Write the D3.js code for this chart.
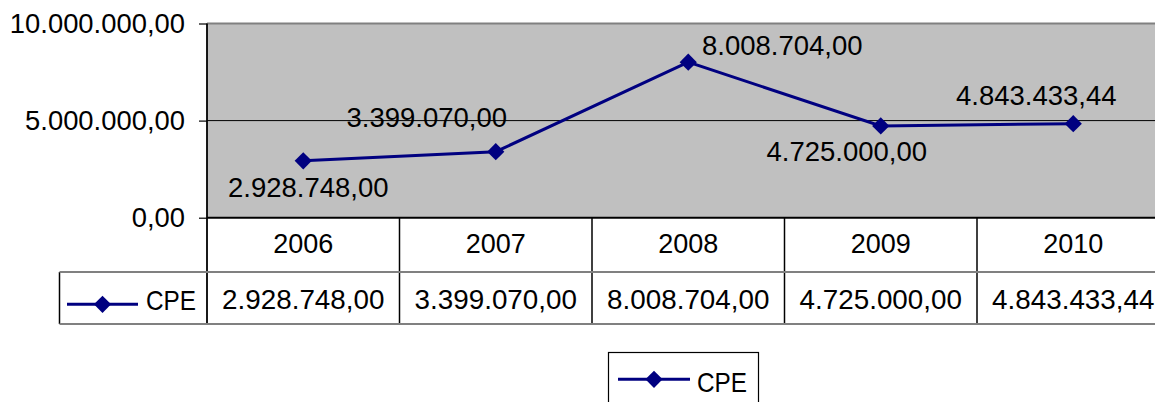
<!DOCTYPE html>
<html>
<head>
<meta charset="utf-8">
<script src="https://cdn.jsdelivr.net/npm/d3@7"></script>
<style>
  html, body { margin: 0; padding: 0; background: #fff; }
  svg { display: block; font-family: "Liberation Sans", Arial, sans-serif; }
</style>
</head>
<body>
<svg id="chart" width="1155" height="402"></svg>
<script>
// ---- data ----
const categories = ["2006", "2007", "2008", "2009", "2010"];
const seriesName = "CPE";
const values = [2928748.00, 3399070.00, 8008704.00, 4725000.00, 4843433.44];
const yTicks = [0, 5000000, 10000000];

// ---- layout (label offsets relative to each point: [dx, dy]) ----
const labelOffsets = [[5, 36], [-69, -25], [94, -7], [-34, 35], [-37, -19]];

const plot = { left: 207, right: 1169.5, top: 23.5, bottom: 217.7 };
const rowHeader = { top: 217.7, bottom: 272 };
const rowData = { top: 272, bottom: 324 };
const legendCellLeft = 59.5;
const navy = "#000080";
const fs = 27.5;

const loc = d3.formatLocale({ decimal: ",", thousands: ".", grouping: [3], currency: ["", ""] });
const fmt = loc.format(",.2f");

const svg = d3.select("#chart");

const x = d3.scaleBand().domain(categories).range([plot.left, plot.right]).padding(0);
const y = d3.scaleLinear().domain([0, 10000000]).range([plot.bottom, plot.top]);

// plot area
svg.append("rect")
  .attr("x", plot.left).attr("y", plot.top)
  .attr("width", plot.right - plot.left).attr("height", plot.bottom - plot.top)
  .attr("fill", "#c0c0c0");
svg.append("line")
  .attr("x1", plot.left).attr("x2", plot.right)
  .attr("y1", plot.top).attr("y2", plot.top)
  .attr("stroke", "#808080").attr("stroke-width", 2);

// gridlines (interior)
svg.append("g").selectAll("line")
  .data(yTicks.filter(t => t > 0 && t < 10000000))
  .join("line")
  .attr("x1", plot.left).attr("x2", plot.right)
  .attr("y1", d => y(d)).attr("y2", d => y(d))
  .attr("stroke", "#000").attr("stroke-width", 1);

// y axis
const yAxis = d3.axisLeft(y).tickValues(yTicks).tickSize(8).tickPadding(14).tickFormat(fmt);
const gy = svg.append("g").attr("transform", `translate(${plot.left},0)`).call(yAxis);
gy.select(".domain").remove();
gy.selectAll(".tick line").attr("stroke", "#000").attr("stroke-width", 1.2);
gy.selectAll(".tick text").attr("font-size", 27.4).attr("fill", "#000")
  .attr("font-family", "'Liberation Sans', Arial, sans-serif");

// left axis line
svg.append("line")
  .attr("x1", plot.left).attr("x2", plot.left)
  .attr("y1", plot.top).attr("y2", rowData.bottom)
  .attr("stroke", "#000").attr("stroke-width", 1.8);

// bottom axis line
svg.append("line")
  .attr("x1", plot.left).attr("x2", plot.right)
  .attr("y1", plot.bottom).attr("y2", plot.bottom)
  .attr("stroke", "#000").attr("stroke-width", 2);

// ---- data table ----
const bounds = categories.map(c => x(c)).concat([plot.right]);
svg.append("g").selectAll("line")
  .data(bounds.slice(1))
  .join("line")
  .attr("x1", d => d).attr("x2", d => d)
  .attr("y1", rowHeader.top).attr("y2", rowData.bottom)
  .attr("stroke", "#000").attr("stroke-width", 1.5);
svg.append("line")
  .attr("x1", legendCellLeft).attr("x2", legendCellLeft)
  .attr("y1", rowData.top).attr("y2", rowData.bottom)
  .attr("stroke", "#000").attr("stroke-width", 1.5);
[rowData.top, rowData.bottom].forEach(yy => {
  svg.append("line")
    .attr("x1", legendCellLeft).attr("x2", plot.right)
    .attr("y1", yy).attr("y2", yy)
    .attr("stroke", "#808080").attr("stroke-width", 1.8);
});

// year labels
svg.append("g").selectAll("text")
  .data(categories)
  .join("text")
  .attr("x", d => x(d) + x.bandwidth() / 2)
  .attr("y", 252.7)
  .attr("text-anchor", "middle")
  .attr("font-size", 27)
  .attr("fill", "#000")
  .text(d => d);

// table values
svg.append("g").selectAll("text")
  .data(values)
  .join("text")
  .attr("x", (d, i) => x(categories[i]) + x.bandwidth() / 2)
  .attr("y", 309.3)
  .attr("text-anchor", "middle")
  .attr("font-size", 27.8)
  .attr("fill", "#000")
  .text(d => fmt(d));

// legend key helper
const diamond = d3.symbol().type(d3.symbolSquare).size(148);
function legendKey(g, x1, x2, cy) {
  g.append("line").attr("x1", x1).attr("x2", x2).attr("y1", cy).attr("y2", cy)
    .attr("stroke", navy).attr("stroke-width", 3);
  g.append("path").attr("d", diamond)
    .attr("transform", `translate(${(x1 + x2) / 2},${cy}) rotate(45)`)
    .attr("fill", navy);
}

// legend key in table
const tk = svg.append("g");
legendKey(tk, 67, 138, 304.3);
tk.append("text").attr("x", 146).attr("y", 309.5)
  .attr("font-size", 28).attr("fill", "#000")
  .attr("textLength", 50).attr("lengthAdjust", "spacingAndGlyphs")
  .text(seriesName);

// ---- series line ----
const pts = values.map((v, i) => [x(categories[i]) + x.bandwidth() / 2, y(v)]);
svg.append("path")
  .attr("d", d3.line()(pts))
  .attr("fill", "none")
  .attr("stroke", navy)
  .attr("stroke-width", 3);
svg.append("g").selectAll("path")
  .data(pts)
  .join("path")
  .attr("d", diamond)
  .attr("transform", d => `translate(${d[0]},${d[1]}) rotate(45)`)
  .attr("fill", navy);

// data labels
svg.append("g").selectAll("text")
  .data(values)
  .join("text")
  .attr("x", (d, i) => pts[i][0] + labelOffsets[i][0])
  .attr("y", (d, i) => pts[i][1] + labelOffsets[i][1])
  .attr("text-anchor", "middle")
  .attr("font-size", fs)
  .attr("fill", "#000")
  .text(d => fmt(d));

// ---- bottom legend ----
const lg = svg.append("g");
lg.append("rect").attr("x", 608.5).attr("y", 352.5).attr("width", 150).attr("height", 70)
  .attr("fill", "#fff").attr("stroke", "#000").attr("stroke-width", 1.2);
legendKey(lg, 618, 690, 379.3);
lg.append("text").attr("x", 697).attr("y", 391.7)
  .attr("font-size", 28).attr("fill", "#000")
  .attr("textLength", 50).attr("lengthAdjust", "spacingAndGlyphs")
  .text(seriesName);
</script>
</body>
</html>
